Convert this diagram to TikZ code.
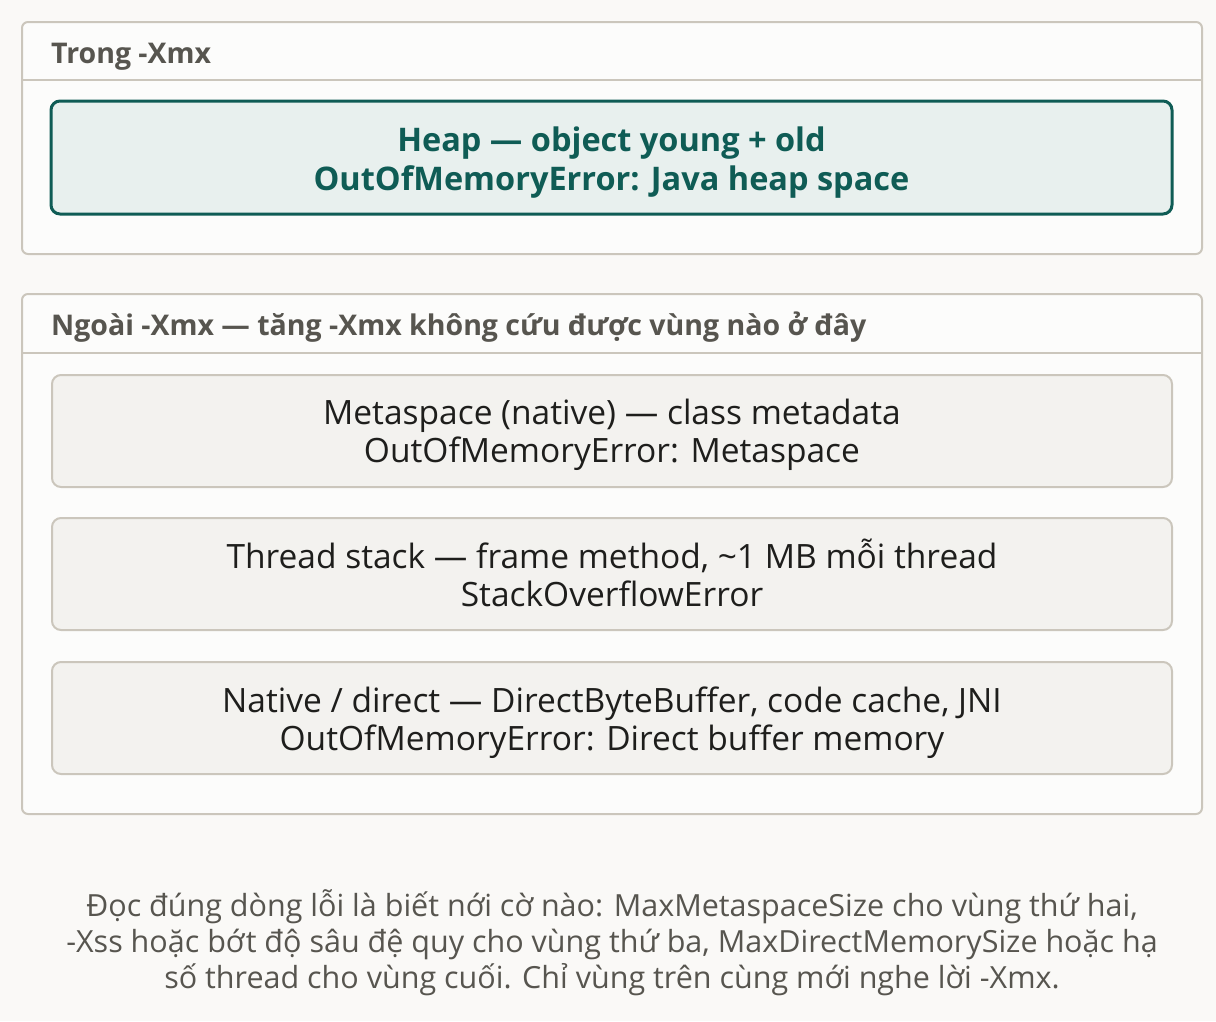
\documentclass[tikz,border=0pt]{standalone}
\usepackage{fontspec}
\setmainfont{Open Sans}
\usetikzlibrary{positioning, calc}
\definecolor{pagebg}{HTML}{FAF9F7}
\definecolor{panelfill}{HTML}{FCFCFB}
\definecolor{panelrule}{HTML}{CBC6BC}
\definecolor{heapfill}{HTML}{E8F0EE}
\definecolor{heapteal}{HTML}{0F5C55}
\definecolor{regionfill}{HTML}{F3F2EF}
\definecolor{headtext}{HTML}{57554F}
\definecolor{bodytext}{HTML}{1E1E1C}
\tikzset{
  panel/.style={rectangle,draw=panelrule,line width=2pt,fill=panelfill,rounded corners=6pt,minimum width=1180pt,inner sep=0pt},
  paneltitle/.style={anchor=base west,text=headtext,font=\fontsize{28.5}{32}\selectfont\bfseries,inner sep=0pt},
  panelrulestyle/.style={draw=panelrule,line width=2pt},
  heapbox/.style={rectangle,draw=heapteal,line width=3pt,fill=heapfill,rounded corners=9pt,minimum width=1121pt,minimum height=113pt},
  heaptext/.style={text=heapteal,align=center,font=\fontsize{32.5}{39}\selectfont\bfseries},
  regionbox/.style={rectangle,draw=panelrule,line width=2pt,fill=regionfill,rounded corners=9pt,minimum width=1120pt,minimum height=112pt},
  regiontext/.style={text=bodytext,align=center,font=\fontsize{33.5}{38}\selectfont},
  note/.style={text=headtext,align=center,font=\fontsize{30.5}{36}\selectfont},
}
\begin{document}
\begin{tikzpicture}[x=1pt,y=-1pt]
	\fill[pagebg] (0,0) rectangle (1216,1021);
	\useasboundingbox (0,0) rectangle (1216,1021);
	% vung trong -Xmx
	\node[panel,minimum height=232pt] (inside) at (612,138) {};
	\draw[panelrulestyle] ($(inside.north west)+(0,59)$) -- ($(inside.north east)+(0,59)$);
	\node[paneltitle] (insidetitle) at (51,63) {Trong -Xmx};
	\node[heapbox] (heap) at (611.5,157.5) {};
	\node[heaptext] (heaplabel) at ([yshift=-5.5pt]heap.center) {Heap — object young + old\\OutOfMemoryError: Java heap space};
	% vung ngoai -Xmx
	\node[panel,minimum height=520pt] (outside) at (612,554) {};
	\draw[panelrulestyle] ($(outside.north west)+(0,60)$) -- ($(outside.north east)+(0,60)$);
	\node[paneltitle] (outsidetitle) at (51,335) {Ngoài -Xmx — tăng -Xmx không cứu được vùng nào ở đây};
	\node[regionbox] (meta) at (612,431) {};
	\node[regionbox,below=29pt of meta] (stack) {};
	\node[regionbox,below=30pt of stack] (direct) {};
	\node[regiontext] (metalabel) at ([yshift=-4pt]meta.center) {Metaspace (native) — class metadata\\OutOfMemoryError: Metaspace};
	\node[regiontext] (stacklabel) at ([yshift=1pt]stack.center) {Thread stack — frame method, \textasciitilde1 MB mỗi thread\\StackOverflowError};
	\node[regiontext] (directlabel) at ([yshift=-4.5pt]direct.center) {Native / direct — DirectByteBuffer, code cache, JNI\\OutOfMemoryError: Direct buffer memory};
	% ghi chu
	\node[note] (hint) at (612,943) {Đọc đúng dòng lỗi là biết nới cờ nào: MaxMetaspaceSize cho vùng thứ hai,\\
		-Xss hoặc bớt độ sâu đệ quy cho vùng thứ ba, MaxDirectMemorySize hoặc hạ\\
		số thread cho vùng cuối. Chỉ vùng trên cùng mới nghe lời -Xmx.};
\end{tikzpicture}
\end{document}
